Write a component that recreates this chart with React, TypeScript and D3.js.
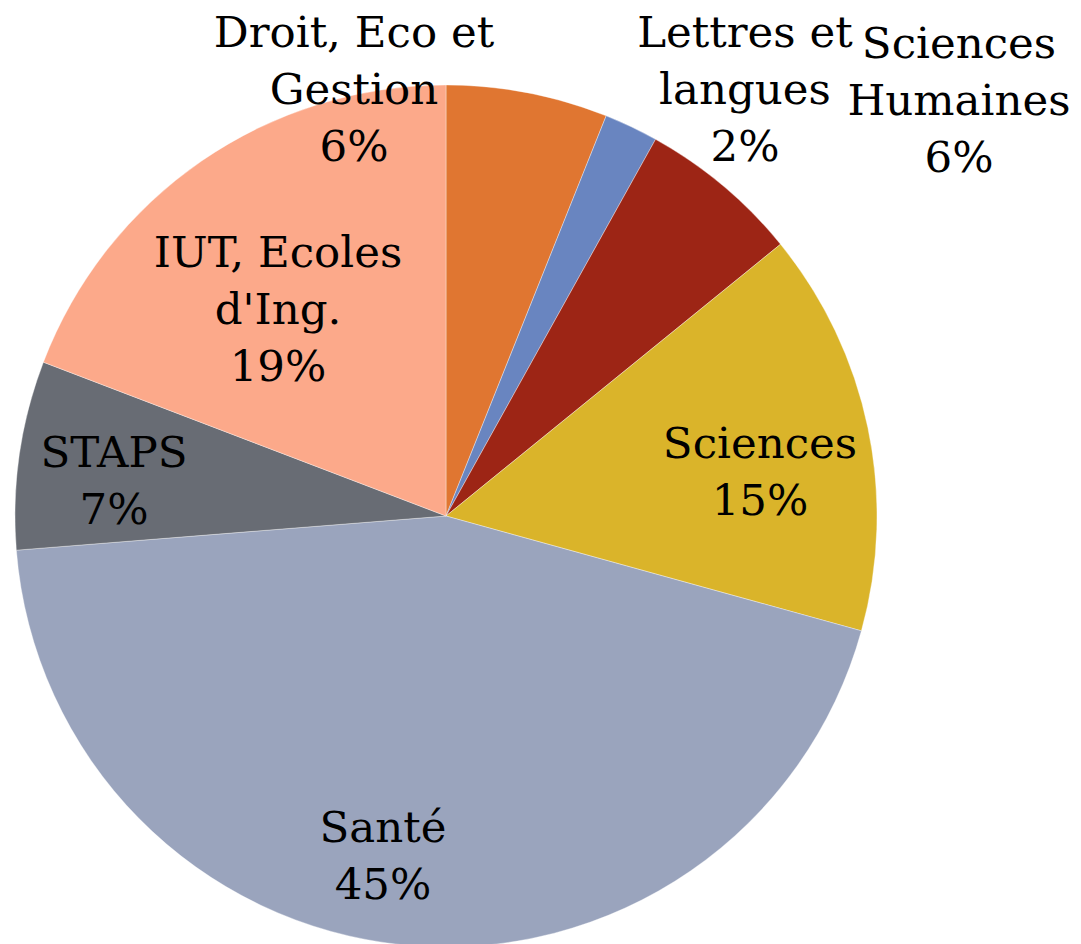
import React from "react";
import * as d3 from "d3";

const categories = [
  "Droit, Eco et Gestion",
  "Lettres et langues",
  "Sciences Humaines",
  "Sciences",
  "Santé",
  "STAPS",
  "IUT, Ecoles d'Ing.",
];
const values = [6.06, 2.02, 6.06, 15.15, 44.44, 7.07, 19.19];
const percentLabels = ["6%", "2%", "6%", "15%", "45%", "7%", "19%"];
const labelLines = [
  ["Droit, Eco et", "Gestion"],
  ["Lettres et", "langues"],
  ["Sciences", "Humaines"],
  ["Sciences"],
  ["Santé"],
  ["STAPS"],
  ["IUT, Ecoles", "d'Ing."],
];
const colors = ["#E07631", "#6985C0", "#9D2515", "#DAB42A", "#9AA4BD", "#686C74", "#FCA98A"];

// layout: label anchor (center x, first baseline y)
const labelAnchors: [number, number][] = [
  [354, 47],
  [745, 47],
  [959, 58],
  [760, 458],
  [383, 842],
  [114, 467],
  [278, 267],
];

const W = 1081;
const H = 944;
const CX = 446;
const CY = 516;
const R = 431;
const LINE = 57;

export default function App() {
  const pie = d3
    .pie<number>()
    .sort(null)
    .value((d) => d)(values);
  const arc = d3.arc<d3.PieArcDatum<number>>().innerRadius(0).outerRadius(R);

  return (
    <svg
      width={W}
      height={H}
      style={{ position: "absolute", left: 0, top: 0, background: "#fff" }}
    >
      <g transform={`translate(${CX},${CY})`}>
        {pie.map((p, i) => (
          <path
            key={categories[i]}
            d={arc(p) || ""}
            fill={colors[i]}
            stroke="#ffffff"
            strokeWidth={0.6}
            strokeOpacity={0.6}
          />
        ))}
      </g>
      <g fontFamily="'DejaVu Serif', serif" fontSize={43.5} fill="#000" textAnchor="middle">
        {labelLines.map((lines, i) => {
          const [x, y] = labelAnchors[i];
          const all = [...lines, percentLabels[i]];
          return (
            <text key={categories[i]} x={x} y={y}>
              {all.map((t, j) => (
                <tspan key={j} x={x} y={y + j * LINE}>
                  {t}
                </tspan>
              ))}
            </text>
          );
        })}
      </g>
    </svg>
  );
}
